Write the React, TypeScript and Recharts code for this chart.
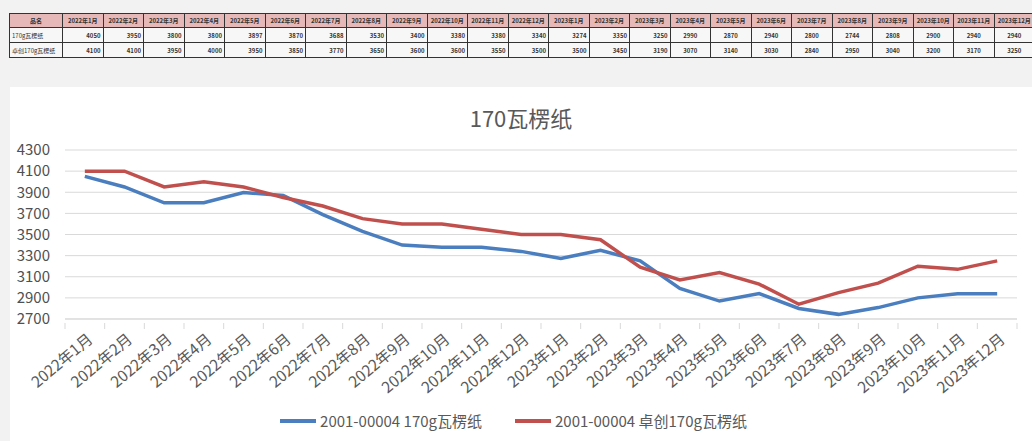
import React from "react";
import { LineChart, Line, XAxis, YAxis, CartesianGrid, Legend } from "recharts";

const months = [
  "2022年1月", "2022年2月", "2022年3月", "2022年4月", "2022年5月", "2022年6月",
  "2022年7月", "2022年8月", "2022年9月", "2022年10月", "2022年11月", "2022年12月",
  "2023年1月", "2023年2月", "2023年3月", "2023年4月", "2023年5月", "2023年6月",
  "2023年7月", "2023年8月", "2023年9月", "2023年10月", "2023年11月", "2023年12月",
];
const seriesA = [4050, 3950, 3800, 3800, 3897, 3870, 3688, 3530, 3400, 3380, 3380, 3340, 3274, 3350, 3250, 2990, 2870, 2940, 2800, 2744, 2808, 2900, 2940, 2940];
const seriesB = [4100, 4100, 3950, 4000, 3950, 3850, 3770, 3650, 3600, 3600, 3550, 3500, 3500, 3450, 3190, 3070, 3140, 3030, 2840, 2950, 3040, 3200, 3170, 3250];
const yTicks = [2700, 2900, 3100, 3300, 3500, 3700, 3900, 4100, 4300];
const nameA = "2001-00004 170g瓦楞纸";
const nameB = "2001-00004 卓创170g瓦楞纸";
const rowA = "170g瓦楞纸";
const rowB = "卓创170g瓦楞纸";
const title = "170瓦楞纸";

const data = months.map((m, i) => ({ month: m, a: seriesA[i], b: seriesB[i] }));

const BLUE = "#4a7ebf";
const RED = "#c0504d";
const FONT = "'Noto Sans CJK SC', 'Noto Sans', sans-serif";

const HALF = 952 / 24 / 2;

const XTick = (props: any) => {
  const { x, y, payload, index } = props;
  return (
    <g>
      <line x1={x - HALF} x2={x - HALF} y1={y - 4} y2={y + 2} stroke="#d9d9d9" />
      {index === months.length - 1 && (
        <line x1={x + HALF} x2={x + HALF} y1={y - 4} y2={y + 2} stroke="#d9d9d9" />
      )}
      <text
        x={0}
        y={0}
        transform={`translate(${x + 9},${y + 14}) rotate(-40)`}
        textAnchor="end"
        fontSize={15.5}
        fill="#595959"
        fontFamily={FONT}
      >
        {payload.value}
      </text>
    </g>
  );
};

const LegendContent = () => (
  <div style={{ display: "flex", justifyContent: "center", fontFamily: FONT, fontSize: 15, color: "#595959" }}>
    <div style={{ display: "flex", alignItems: "center", marginRight: 33 }}>
      <div style={{ width: 36, height: 4, background: BLUE, marginRight: 4 }} />
      <span>{nameA}</span>
    </div>
    <div style={{ display: "flex", alignItems: "center" }}>
      <div style={{ width: 36, height: 4, background: RED, marginRight: 4 }} />
      <span>{nameB}</span>
    </div>
  </div>
);

const cellBase: React.CSSProperties = {
  border: "1px solid #333",
  padding: "0 2px",
  height: 13,
  fontSize: 6,
  fontWeight: 700,
  whiteSpace: "nowrap",
  overflow: "hidden",
  boxSizing: "border-box",
};

export default function App() {
  return (
    <div style={{ position: "fixed", left: 0, top: 0, width: 1032, height: 441, background: "#f2f2f2", overflow: "hidden", fontFamily: FONT }}>
      <table
        style={{
          position: "absolute",
          left: 9,
          top: 13,
          borderCollapse: "collapse",
          tableLayout: "fixed",
          width: 53 + 24 * 40.5,
          color: "#333",
        }}
      >
        <colgroup>
          <col style={{ width: 53 }} />
          {months.map((m) => (
            <col key={m} style={{ width: 40.5 }} />
          ))}
        </colgroup>
        <tbody>
          <tr style={{ background: "#e6b9b8" }}>
            <td style={{ ...cellBase, textAlign: "center", height: 14 }}>品名</td>
            {months.map((m) => (
              <td key={m} style={{ ...cellBase, textAlign: "center", height: 14 }}>{m}</td>
            ))}
          </tr>
          <tr style={{ background: "#f7f7f7" }}>
            <td style={{ ...cellBase, fontWeight: 400, height: 15 }}>{rowA}</td>
            {seriesA.map((v, i) => (
              <td key={i} style={{ ...cellBase, height: 15, textAlign: i >= 15 ? "center" : "right" }}>{v}</td>
            ))}
          </tr>
          <tr style={{ background: "#f7f7f7" }}>
            <td style={{ ...cellBase, fontWeight: 400, height: 15 }}>{rowB}</td>
            {seriesB.map((v, i) => (
              <td key={i} style={{ ...cellBase, height: 15, textAlign: i >= 15 ? "center" : "right" }}>{v}</td>
            ))}
          </tr>
        </tbody>
      </table>

      <div style={{ position: "absolute", left: 10, top: 87, width: 1022, height: 354, background: "#ffffff" }}>
        <div
          style={{
            position: "absolute",
            left: 0,
            width: 1022,
            top: 14,
            textAlign: "center",
            fontSize: 22,
            color: "#595959",
            fontFamily: FONT,
          }}
        >
          {title}
        </div>
        <LineChart
          width={1022}
          height={354}
          data={data}
          margin={{ top: 63, right: 15, left: 0, bottom: 0 }}
        >
          <CartesianGrid vertical={false} stroke="#d9d9d9" />
          <XAxis
            dataKey="month"
            interval={0}
            padding={{ left: HALF, right: HALF }}
            tick={<XTick />}
            tickLine={false}
            axisLine={{ stroke: "#d9d9d9" }}
            height={101}
          />
          <YAxis
            domain={[2700, 4300]}
            ticks={yTicks}
            width={55}
            axisLine={false}
            tickLine={false}
            tickSize={0}
            tickMargin={15}
            tick={{ fontSize: 15, fill: "#505050", fontFamily: FONT }}
            interval={0}
          />
          <Legend verticalAlign="bottom" content={<LegendContent />} wrapperStyle={{ bottom: 10 }} />
          <Line type="linear" dataKey="a" name={nameA} stroke={BLUE} strokeWidth={3.5} dot={false} isAnimationActive={false} />
          <Line type="linear" dataKey="b" name={nameB} stroke={RED} strokeWidth={3.5} dot={false} isAnimationActive={false} />
        </LineChart>
      </div>
    </div>
  );
}
